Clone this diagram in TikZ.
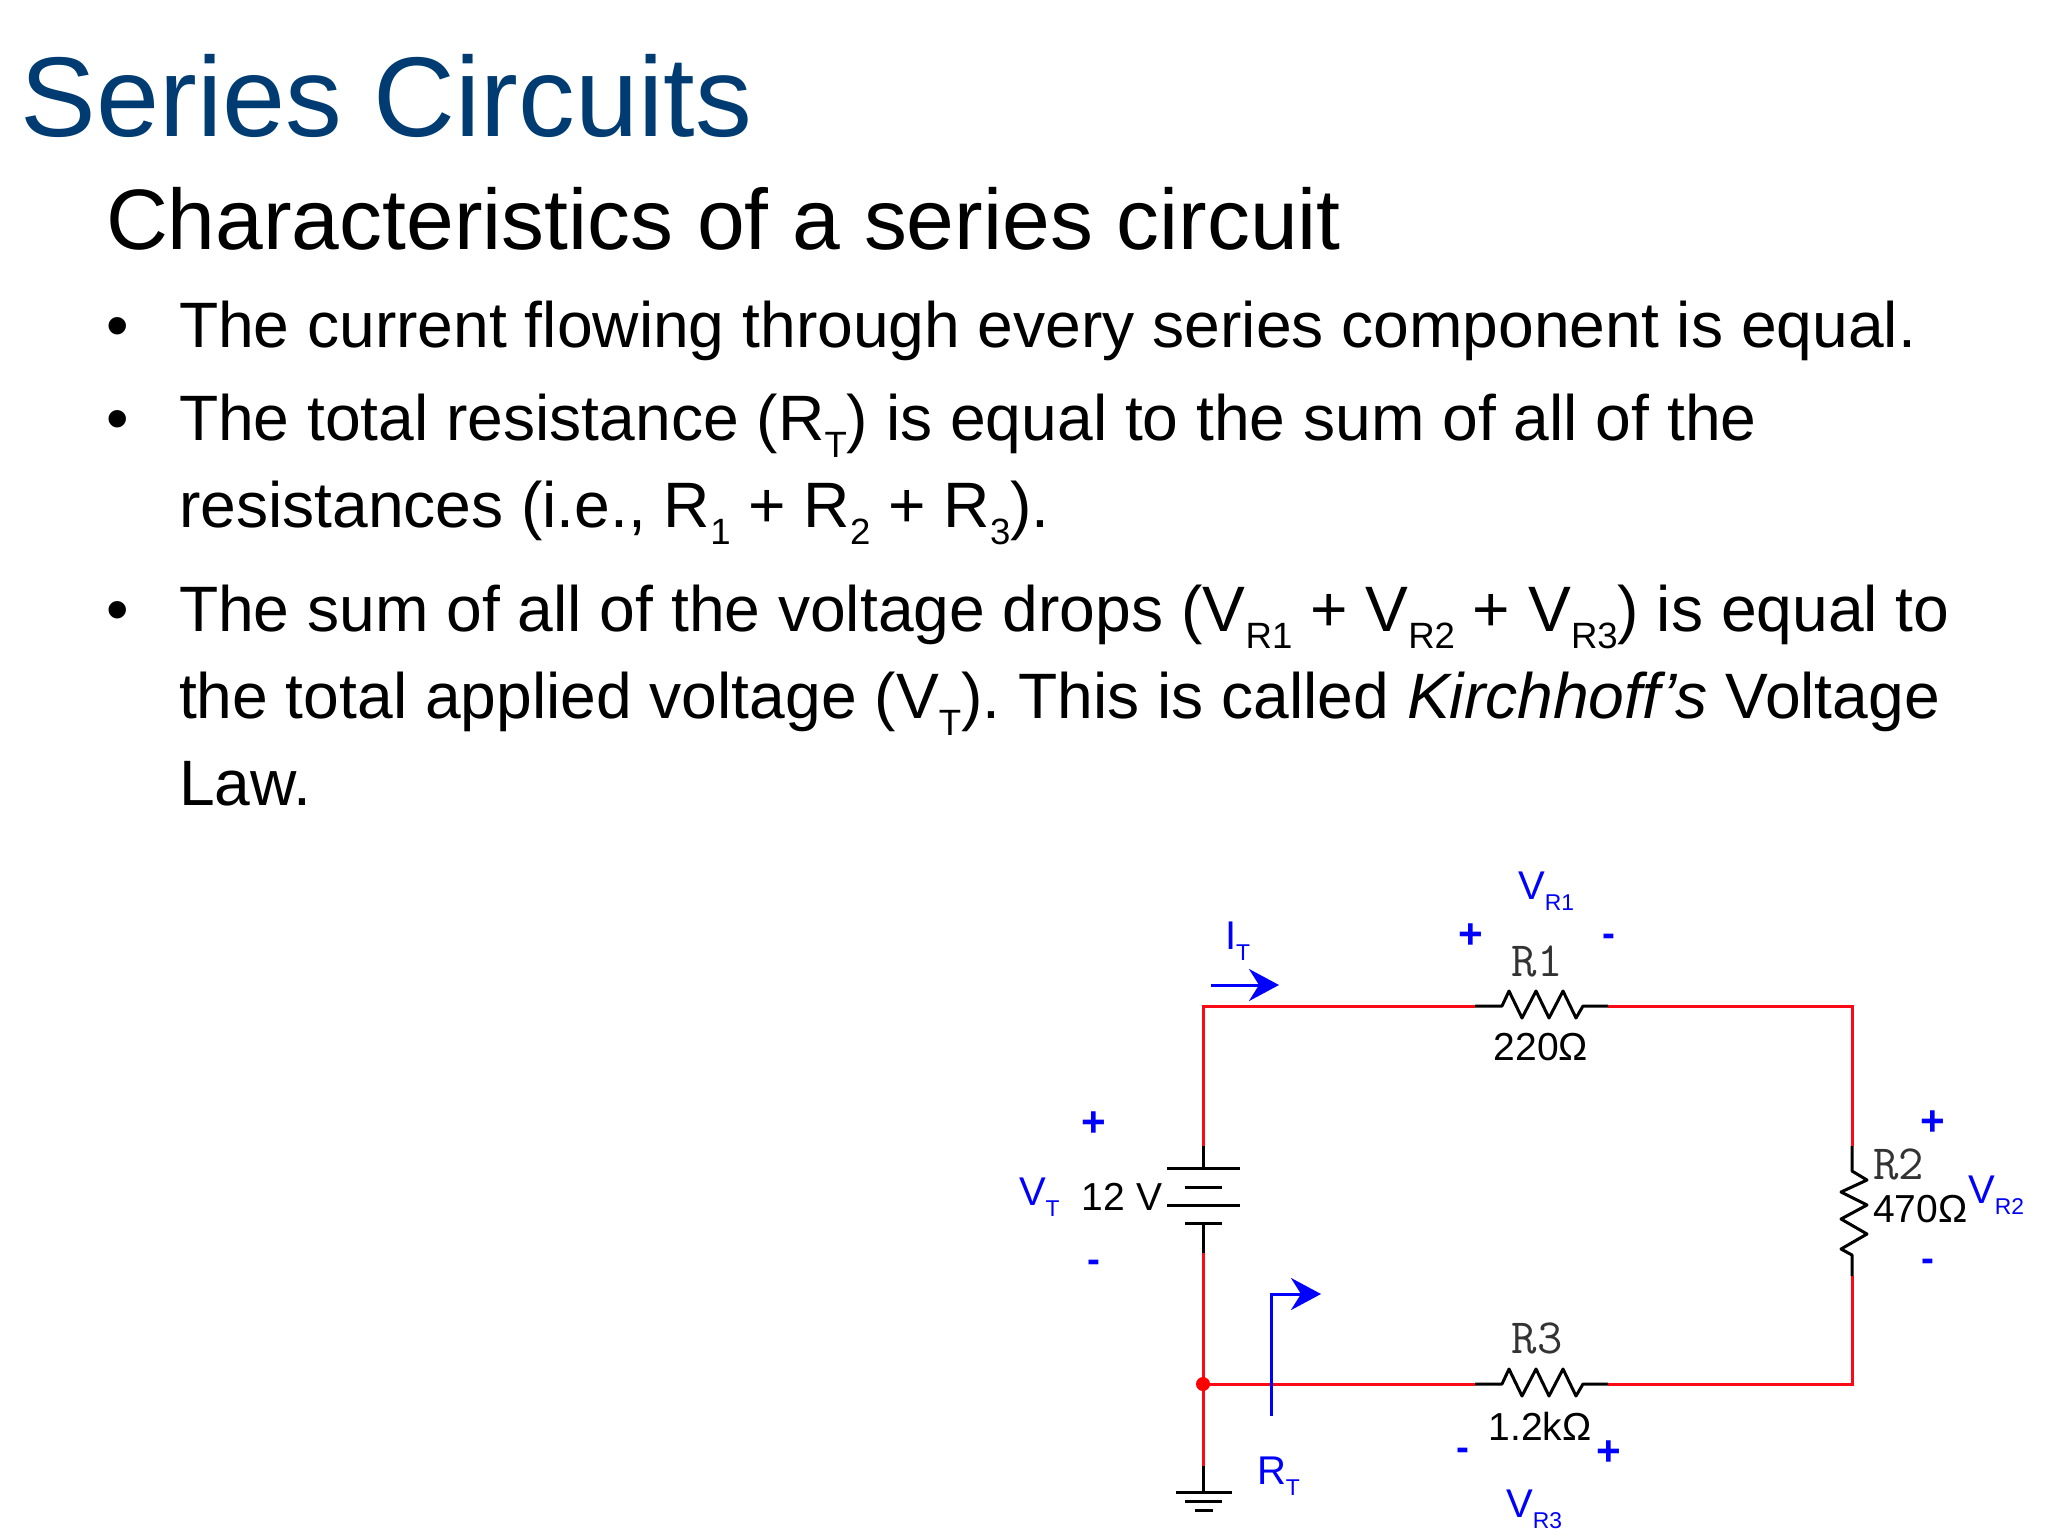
\documentclass[tikz,border=0pt]{standalone}
\usepackage{fontspec}
\setmainfont{Liberation Sans}
\usetikzlibrary{arrows.meta}
\definecolor{titleblue}{RGB}{0,59,113}
\definecolor{wirered}{RGB}{250,10,20}
\newcommand{\lowtext}[1]{\raisebox{-0.28em}{\scalebox{0.57}{#1}}}
\frenchspacing
\tikzset{
  line/.style={anchor=base west,inner sep=0pt,outer sep=0pt,font=\fontsize{18.25}{20}\selectfont},
  wire/.style={line width=0.03cm,draw=wirered},
  part/.style={line width=0.03cm,draw=black,line join=round},
  probe/.style={line width=0.03cm,draw=blue,-{Stealth[length=0.3cm,width=0.32cm,inset=0.1cm]}},
  note/.style={inner sep=0pt,outer sep=0pt,text=blue,font=\fontsize{11.4}{13}\selectfont},
  plussign/.style={note,font=\fontsize{12}{14}\bfseries\selectfont},
  minussign/.style={note,font=\fontsize{11}{13}\bfseries\selectfont},
  value/.style={inner sep=0pt,outer sep=0pt,font=\fontsize{11.1}{13}\selectfont},
  refdes/.style={inner sep=0pt,outer sep=0pt,font=\fontsize{14}{16}\ttfamily\selectfont,text=black!80},
}
\begin{document}
\begin{tikzpicture}[x=0.01cm,y=-0.01cm]
\useasboundingbox (0,0) rectangle (2048,1536);

% Marking title and text lines
\node[line,text=titleblue,font=\fontsize{32.25}{36}\selectfont] (title) at (21,136) {Series Circuits};
\node[line,font=\fontsize{24.4}{26}\selectfont] (heading) at (106,249) {Characteristics of a series circuit};
\node[line] (bulleta) at (106,347) {•};
\node[line] (linea) at (179,347) {The current flowing through every series component is equal.};
\node[line] (bulletb) at (106,440) {•};
\node[line] (lineb) at (179,440) {The total resistance (R\lowtext{T}) is equal to the sum of all of the};
\node[line] (linec) at (179,527) {resistances (i.e., R\lowtext{1} + R\lowtext{2} + R\lowtext{3}).};
\node[line] (bulletc) at (106,631) {•};
\node[line] (lined) at (179,631) {The sum of all of the voltage drops (V\lowtext{R1} + V\lowtext{R2} + V\lowtext{R3}) is equal to};
\node[line] (linee) at (179,718) {the total applied voltage (V\lowtext{T}). This is called \textit{Kirchhoff’s} Voltage};
\node[line] (linef) at (179,805) {Law.};

% Circuit points
\coordinate (topleft) at (1203,1006);
\coordinate (topright) at (1852,1006);
\coordinate (botright) at (1852,1384);
\coordinate (botleft) at (1203,1384);
\coordinate (rAa) at (1475,1006);
\coordinate (rAb) at (1502,1006);
\coordinate (rAc) at (1583,1006);
\coordinate (rAd) at (1608,1006);
\coordinate (rBa) at (1852,1146);
\coordinate (rBb) at (1852,1171);
\coordinate (rBc) at (1852,1255);
\coordinate (rBd) at (1852,1276);
\coordinate (rCa) at (1475,1384);
\coordinate (rCb) at (1502,1384);
\coordinate (rCc) at (1583,1384);
\coordinate (rCd) at (1608,1384);
\coordinate (batta) at (1203,1146);
\coordinate (battb) at (1203,1168);
\coordinate (battc) at (1203,1223);
\coordinate (battd) at (1203,1253);
\coordinate (gnda) at (1203,1466);
\coordinate (gndb) at (1203,1492);

% Drawing red wires
\draw[wire] (batta) -- (topleft) -- (rAa);
\draw[wire] (rAd) -- (topright) -- (rBa);
\draw[wire] (rBd) -- (botright) -- (rCd);
\draw[wire] (rCa) -- (botleft);
\draw[wire] (battd) -- (gnda);
\fill[red] (botleft) circle (7);

% Drawing resistor R1
\draw[part] (rAa) -- (rAb) -- ++(7,-15) -- ++(13,27) -- ++(14,-27) -- ++(13,27) -- ++(14,-27) -- ++(13,27) -- (rAc) -- (rAd);

% Drawing resistor R2
\draw[part] (rBa) -- (rBb) -- ++(15,9) -- ++(-26,12) -- ++(26,13) -- ++(-26,14) -- ++(26,15) -- ++(-26,15) -- (rBc) -- (rBd);

% Drawing resistor R3
\draw[part] (rCa) -- (rCb) -- ++(7,-15) -- ++(13,27) -- ++(14,-27) -- ++(13,27) -- ++(14,-27) -- ++(13,27) -- (rCc) -- (rCd);

% Drawing battery
\draw[part] (batta) -- (battb);
\draw[part] (battc) -- (battd);
\draw[part] (1167,1168) -- (1240,1168);
\draw[part] (1185,1187) -- (1222,1187);
\draw[part] (1167,1205) -- (1240,1205);
\draw[part] (1185,1223) -- (1222,1223);

% Drawing ground
\draw[part] (gnda) -- (gndb);
\draw[part] (1176,1492) -- (1232,1492);
\draw[part] (1185,1501) -- (1222,1501);
\draw[part] (1195,1510) -- (1213,1510);

% Drawing probes
\coordinate (itail) at (1211,985);
\coordinate (itip) at (1279,985);
\coordinate (rtail) at (1271,1416);
\coordinate (rbend) at (1271,1294);
\coordinate (rtip) at (1321,1294);
\draw[probe] (itail) -- (itip);
\draw[probe] (rtail) -- (rbend) -- (rtip);

% Marking component labels
\node[refdes] (labelRa) at (1537,961) {R1};
\node[value] (valueRa) at (1541,1047) {220Ω};
\node[refdes,anchor=west] (labelRb) at (1873,1164) {R2};
\node[value,anchor=west] (valueRb) at (1873,1209) {470Ω};
\node[refdes] (labelRc) at (1537,1338) {R3};
\node[value] (valueRc) at (1540,1426) {1.2kΩ};
\node[value] (valueV) at (1122,1197) {12 V};

% Marking blue labels
\node[note,anchor=base west] (vra) at (1518,899) {V\lowtext{R1}};
\node[note,anchor=base west] (it) at (1225,949) {I\lowtext{T}};
\node[note,anchor=base west] (rt) at (1257,1484) {R\lowtext{T}};
\node[note,anchor=base west] (vt) at (1019,1205) {V\lowtext{T}};
\node[note,anchor=base west] (vrb) at (1968,1203) {V\lowtext{R2}};
\node[note,anchor=base west] (vrc) at (1506,1517) {V\lowtext{R3}};

% Marking signs
\node[plussign] (plusa) at (1471,936) {+};
\node[minussign] (minusa) at (1609,940) {-};
\node[plussign] (plusv) at (1094,1124) {+};
\node[minussign] (minusv) at (1094,1266) {-};
\node[plussign] (plusb) at (1933,1123) {+};
\node[minussign] (minusb) at (1928,1265) {-};
\node[minussign] (minusc) at (1463,1454) {-};
\node[plussign] (plusc) at (1609,1453) {+};
\end{tikzpicture}
\end{document}
